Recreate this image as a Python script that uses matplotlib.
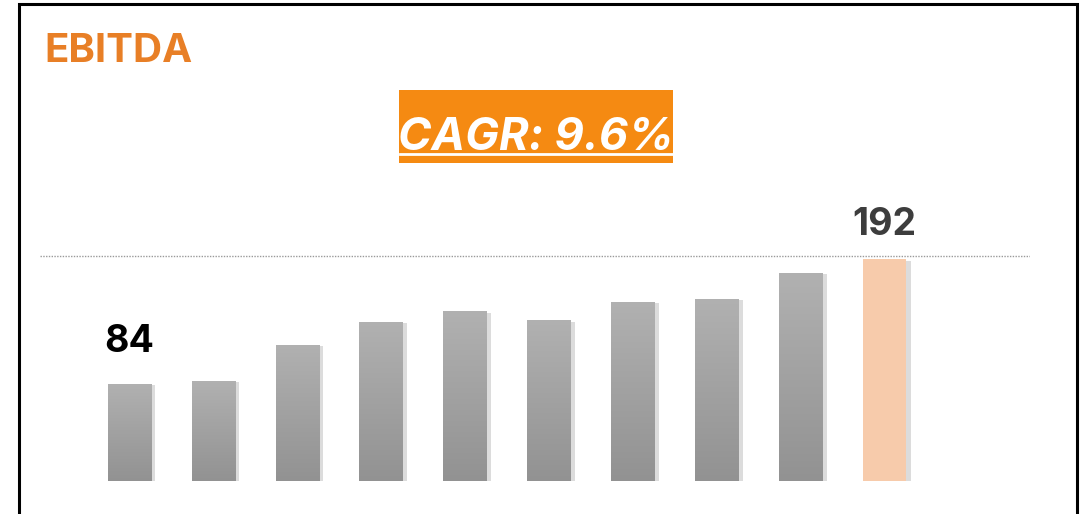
import numpy as np
import matplotlib
matplotlib.use("Agg")
import matplotlib.pyplot as plt
import matplotlib.patches as mpatches
import matplotlib.patheffects as pe
from matplotlib.lines import Line2D

# datos
years = list(range(10))
ebitda = [84, 87, 118, 138, 147, 139, 155, 158, 180, 192]
title = "EBITDA"
cagr_label = "CAGR: 9.6%"

W, H = 1089, 514
fig = plt.figure(figsize=(W / 100, H / 100), dpi=100)
fig.patch.set_facecolor("white")

def fx(px):
    return px / W

def fy(py):
    return 1 - py / H

# ejes de las barras (pixeles del recuadro)
ax = fig.add_axes([fx(40), 33 / H, 990 / W, 231 / H])
ax.set_xlim(-1.067, 10.733)
ax.set_ylim(0, 200)
ax.axis("off")

ax.axhline(195, color="#9a9a9a", lw=1, ls=(0, (1, 1)))

ancho = 0.52
grad = np.linspace(0, 1, 256).reshape(-1, 1)
cmap = matplotlib.colors.LinearSegmentedColormap.from_list("g", ["#929292", "#b1b1b1"])
for i, v in zip(years, ebitda):
    ultimo = i == len(years) - 1
    color = "#f7cbab" if ultimo else "#a5a5a5"
    b = ax.bar(i, v, width=ancho, color=color, zorder=2,
               path_effects=[pe.SimplePatchShadow(offset=(3, -1), shadow_rgbFace="#dcdcdc", alpha=1.0),
                             pe.Normal()])[0]
    if not ultimo:
        im = ax.imshow(grad, extent=(i - ancho / 2, i + ancho / 2, 0, v), origin="lower",
                       cmap=cmap, aspect="auto", zorder=3)
        im.set_clip_path(b)

ax.set_xlim(-1.067, 10.733)
ax.set_ylim(0, 200)

# etiquetas de primer y ultimo valor
ax.text(years[0], ebitda[0] + 21, str(ebitda[0]), ha="center", va="bottom",
        fontsize=27, fontweight="bold", family="Inter", color="black")
ax.text(years[-1], ebitda[-1] + 14, str(ebitda[-1]), ha="center", va="bottom",
        fontsize=27, fontweight="bold", family="Inter", color="#3d3d3d")

# titulo
fig.text(fx(44), fy(62), title, ha="left", va="baseline", fontsize=29,
         fontweight="bold", family="Inter", color="#e87f26")

# caja CAGR
fig.add_artist(mpatches.Rectangle((fx(399), fy(163)), fx(274), 73 / H,
                                  transform=fig.transFigure, facecolor="#f58a12", edgecolor="none"))
fig.text(fx(536), fy(150), cagr_label, ha="center", va="baseline", fontsize=32.5,
         fontweight="bold", fontstyle="italic", family="Inter", color="white")
fig.add_artist(Line2D([fx(400), fx(672)], [fy(153.5), fy(153.5)], transform=fig.transFigure,
                      color="white", lw=2))

# marco
fig.add_artist(mpatches.Rectangle((fx(19), fy(520)), fx(1058), 516 / H,
                                  transform=fig.transFigure, facecolor="none",
                                  edgecolor="black", lw=2.2))

fig.savefig("out.png", dpi=100)
